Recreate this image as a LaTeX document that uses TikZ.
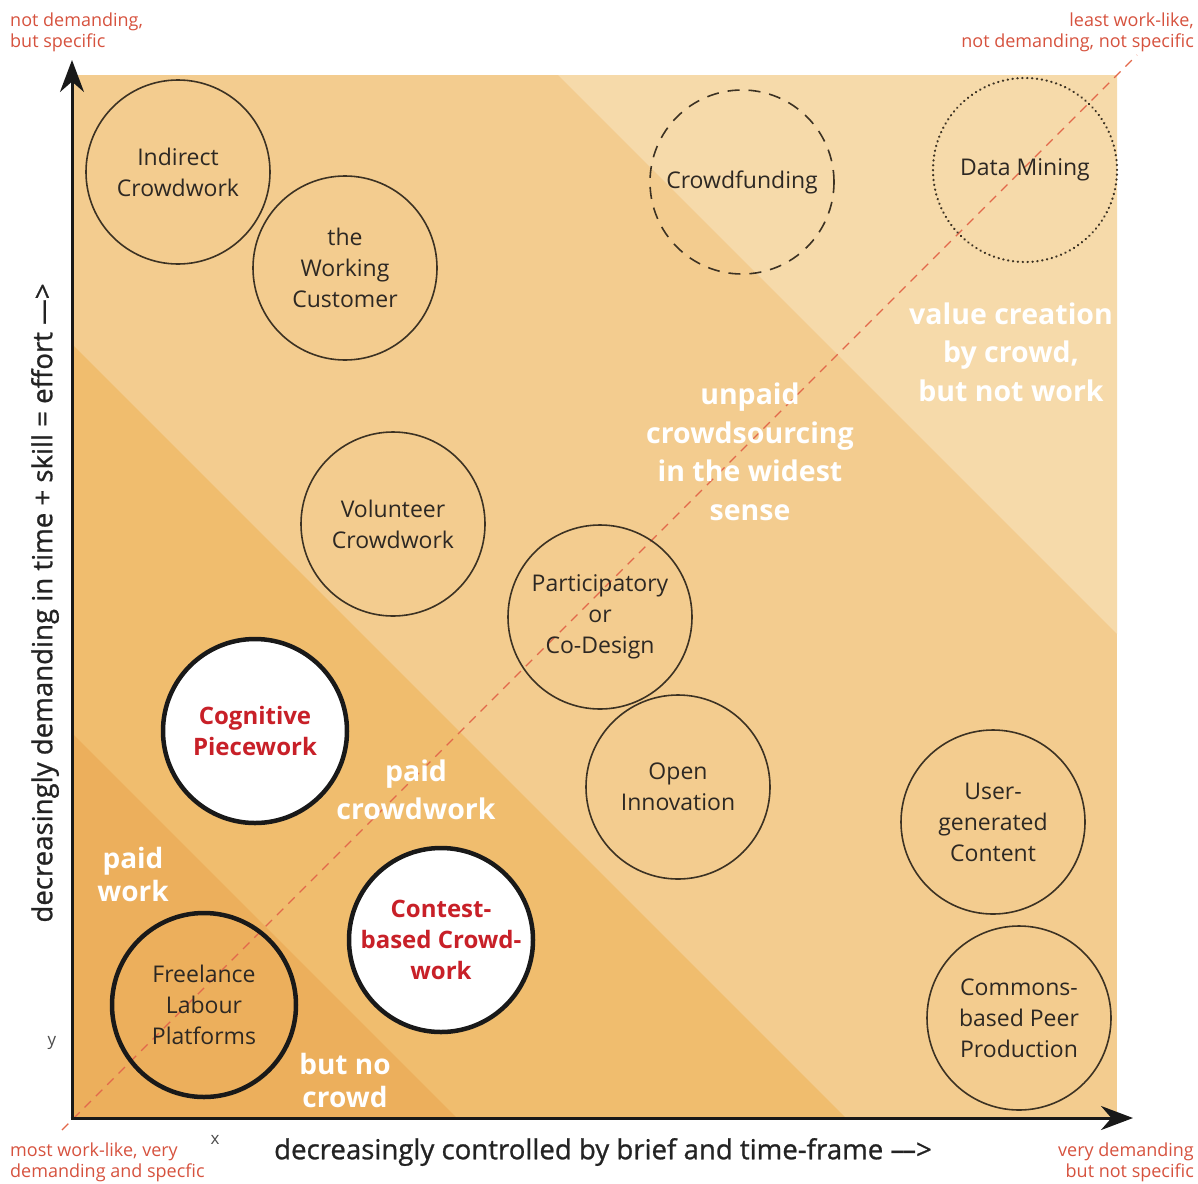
\documentclass[tikz,border=0pt]{standalone}
\usepackage{fontspec}
\setmainfont{Open Sans}
\newfontfamily\semifont[FakeBold=0.9]{Open Sans}
\usetikzlibrary{arrows.meta}
\definecolor{bandA}{RGB}{236,175,92}
\definecolor{bandB}{RGB}{240,189,110}
\definecolor{bandC}{RGB}{243,204,143}
\definecolor{bandD}{RGB}{246,218,170}
\definecolor{circline}{RGB}{60,50,35}
\definecolor{circtext}{RGB}{45,40,35}
\definecolor{boldred}{RGB}{200,32,40}
\definecolor{cornerred}{RGB}{214,82,62}
\definecolor{diagred}{RGB}{226,104,74}
\definecolor{axistext}{RGB}{35,35,35}
\tikzset{
  circ/.style={circle, draw=circline, line width=1.6pt, minimum size=184pt, inner sep=0pt,
    align=center, font=\fontsize{23}{31}\selectfont, text=circtext},
  thickcirc/.style={circ, draw=black!90, line width=4.5pt},
  redcirc/.style={thickcirc, fill=white, text=boldred, font=\bfseries\fontsize{24}{31}\selectfont},
  bandlabel/.style={text=white, align=center, inner sep=0pt, font=\bfseries\fontsize{28.5}{38.5}\selectfont},
  cornerlabel/.style={text=cornerred, inner sep=0pt, font=\fontsize{18}{20.5}\selectfont},
  axislabel/.style={text=axistext, inner sep=0pt, font=\semifont\fontsize{27.6}{32}\selectfont},
  axisline/.style={line width=3pt, draw=black!90, -{Stealth[length=32pt,width=24pt]}},
  diagline/.style={draw=diagred, line width=1.3pt, dash pattern=on 9pt off 7pt}
}
\begin{document}
\begin{tikzpicture}[x=1pt,y=-1pt]
\useasboundingbox (0,0) rectangle (1198,1183);
% bands
\fill[bandC] (72,75) rectangle (1117,1118);
\fill[bandB] (72,344) -- (72,1118) -- (846,1118) -- cycle;
\fill[bandA] (72,733) -- (72,1118) -- (457,1118) -- cycle;
\fill[bandD] (558,75) -- (1117,75) -- (1117,634) -- cycle;
% diagonal
\coordinate (dA) at (62,1130);
\coordinate (dB) at (1137,55);
\draw[diagline] (dA) -- (dB);
% band labels
\node[bandlabel] (lval) at (1011,352) {value creation\\by crowd,\\but not work};
\node[bandlabel] (lunp) at (750,452) {unpaid\\crowdsourcing\\in the widest\\sense};
\node[bandlabel] (lpcw) at (416,790) {paid\\crowdwork};
\node[bandlabel, font=\bfseries\fontsize{28}{33}\selectfont] (lpw) at (133,874) {paid\\work};
\node[bandlabel, font=\bfseries\fontsize{28}{33}\selectfont] (lbnc) at (345,1080) {but no\\crowd};
% circles
\node[circ] (ind) at (178,172) {Indirect\\Crowdwork};
\node[circ] (wc) at (345,268) {the\\Working\\Customer};
\node[circ, dash pattern=on 12pt off 9pt] (fund) at (742,182) {Crowdfunding};
\node[circ, line cap=round, line width=2.3pt, dash pattern=on 0.3pt off 4.6pt] (mine) at (1025,170) {Data Mining};
\node[circ] (vol) at (393,524) {Volunteer\\Crowdwork};
\node[circ] (part) at (600,617) {Participatory\\or\\Co-Design};
\node[circ] (open) at (678,787) {Open\\Innovation};
\node[circ] (ugc) at (993,822) {User-\\generated\\Content};
\node[circ] (cbpp) at (1019,1018) {Commons-\\based Peer\\Production};
\node[redcirc] (cog) at (255,731) {Cognitive\\Piecework};
\node[redcirc] (cont) at (441,940) {Contest-\\based Crowd-\\work};
\node[thickcirc] (free) at (204,1005) {Freelance\\Labour\\Platforms};
% axes
\coordinate (O) at (72,1118);
\coordinate (ytip) at (72,60);
\coordinate (xtip) at (1133,1118);
\draw[axisline] (72,1119.5) -- (ytip);
\draw[axisline] (70.5,1118) -- (xtip);
% axis labels
\node[axislabel] (xl) at (603,1152) {decreasingly controlled by brief and time-frame –\kern-2pt–>};
\node[axislabel, rotate=90] (yl) at (45,603) {decreasingly demanding in time + skill = effort –\kern-2pt–>};
\node[text=black!70, font=\fontsize{17}{20}\selectfont, inner sep=0pt] (xm) at (215,1140) {x};
\node[text=black!70, font=\fontsize{17}{20}\selectfont, inner sep=0pt] (ym) at (52,1043) {y};
% corner labels
\node[cornerlabel, align=left, anchor=north west] (tl) at (10,13) {not demanding,\\but specific};
\node[cornerlabel, align=right, anchor=north east] (tr) at (1194,13) {least work-like,\\not demanding, not specific};
\node[cornerlabel, align=left, anchor=north west] (bl) at (10,1143) {most work-like, very\\demanding and specfic};
\node[cornerlabel, align=right, anchor=north east] (br) at (1194,1143) {very demanding\\but not specific};
\end{tikzpicture}
\end{document}
